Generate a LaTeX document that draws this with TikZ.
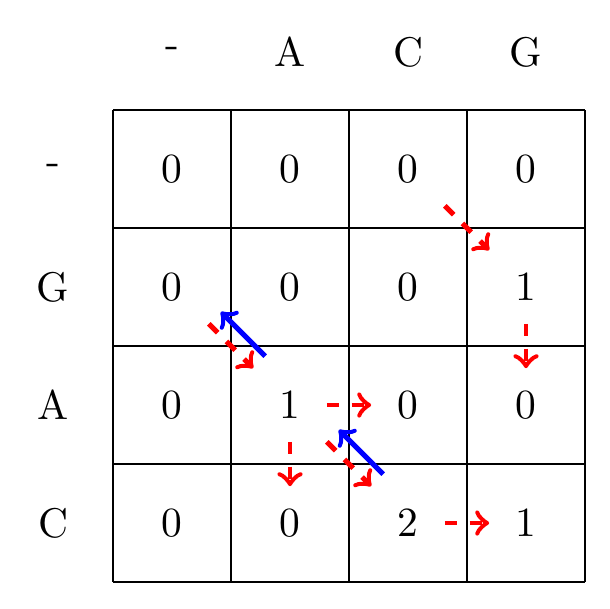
\documentclass[tikz,border=0pt]{standalone}
\begin{document}
\begin{tikzpicture}[x=0.241pt,y=-0.241pt,
  cell/.style={rectangle,minimum size=17.35pt,inner sep=0pt},
  hdr/.style={inner sep=0pt},
  gridline/.style={line width=0.6pt,black},
  redarr/.style={->,red,dashed,line width=1.2pt},
  bluearr/.style={->,blue,line width=1.2pt}]
\useasboundingbox (0,0) rectangle (610,608);
% grid
\foreach \x in {113,231,349,467,585} \draw[gridline] (\x,110) -- (\x,582);
\foreach \y in {110,228,346,464,582} \draw[gridline] (113,\y) -- (585,\y);
% headers
\node[hdr] (h0) at (172,52) {-};
\node[hdr] (h1) at (290,52) {A};
\node[hdr] (h2) at (408,52) {C};
\node[hdr] (h3) at (526,52) {G};
\node[hdr] (r0) at (53,169) {-};
\node[hdr] (r1) at (53,287) {G};
\node[hdr] (r2) at (53,405) {A};
\node[hdr] (r3) at (53,523) {C};
% cells
\node[cell] (c00) at (172,169) {0};
\node[cell] (c01) at (290,169) {0};
\node[cell] (c02) at (408,169) {0};
\node[cell] (c03) at (526,169) {0};
\node[cell] (c10) at (172,287) {0};
\node[cell] (c11) at (290,287) {0};
\node[cell] (c12) at (408,287) {0};
\node[cell] (c13) at (526,287) {1};
\node[cell] (c20) at (172,405) {0};
\node[cell] (c21) at (290,405) {1};
\node[cell] (c22) at (408,405) {0};
\node[cell] (c23) at (526,405) {0};
\node[cell] (c30) at (172,523) {0};
\node[cell] (c31) at (290,523) {0};
\node[cell] (c32) at (408,523) {2};
\node[cell] (c33) at (526,523) {1};
% arrows
\draw[redarr] (c02.south east) -- (c13.north west);
\draw[redarr] (c13.south) -- (c23.north);
\draw[redarr] (c10.south east) -- (c21.north west);
\draw[redarr] (c21.east) -- (c22.west);
\draw[redarr] (c21.south) -- (c31.north);
\draw[redarr] (c21.south east) -- (c32.north west);
\draw[redarr] (c32.east) -- (c33.west);
\draw[bluearr] ([shift={(12,-12)}]c21.north west) -- ([shift={(12,-12)}]c10.south east);
\draw[bluearr] ([shift={(12,-12)}]c32.north west) -- ([shift={(12,-12)}]c21.south east);
\end{tikzpicture}
\end{document}
